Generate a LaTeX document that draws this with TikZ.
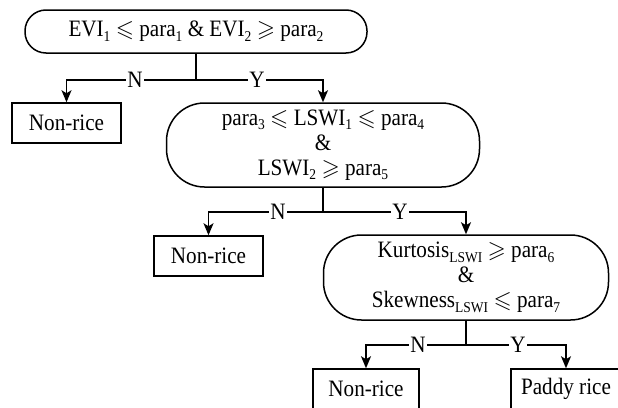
\documentclass[tikz,border=0pt]{standalone}
\usepackage{amssymb}
\usepackage{fontspec}
\setmainfont[FakeStretch=0.9]{Liberation Serif}
\usetikzlibrary{arrows.meta}
\newcommand\lo[1]{\raisebox{-0.2em}{\fontsize{15}{15}\selectfont #1}}
\begin{document}
\begin{tikzpicture}[x=1pt,y=-1pt,line width=1.5pt,
  font=\fontsize{23.5}{25}\selectfont,
  cond/.style={draw,rounded corners=#1,align=center,inner sep=0pt},
  term/.style={draw,rectangle,minimum height=40,inner sep=0pt},
  arr/.style={-{Stealth[length=12pt,width=10pt,inset=3pt]}},
  lab/.style={fill=white,inner sep=1.5pt}]
\useasboundingbox (0,0) rectangle (618,407);
\clip (0,0) rectangle (618,407);
% nodes
\node[cond=21,minimum width=342,minimum height=43] (c1) at (196,31.5)
  {EVI\lo{1} $\leqslant$ para\lo{1} \& EVI\lo{2} $\geqslant$ para\lo{2}};
\node[term,minimum width=109] (n1) at (66.5,123) {Non-rice};
\node[cond=38,minimum width=313,minimum height=84] (c2) at (323,145)
  {para\lo{3} $\leqslant$ LSWI\lo{1} $\leqslant$ para\lo{4}\\\&\\LSWI\lo{2} $\geqslant$ para\lo{5}};
\node[term,minimum width=109] (n2) at (208.5,256) {Non-rice};
\node[cond=38,minimum width=285,minimum height=85] (c3) at (466,277.5)
  {Kurtosis\lo{LSWI} $\geqslant$ para\lo{6}\\\&\\Skewness\lo{LSWI} $\leqslant$ para\lo{7}};
\node[term,minimum width=106] (n3) at (366,389) {Non-rice};
\node[term,minimum width=110] (pr) at (566,389) {Paddy rice};
% junctions
\coordinate (j1) at (196,80);
\coordinate (j2) at (323,212);
\coordinate (j3) at (466,345);
% connectors
\draw (c1.south) -- (j1);
\draw[arr] (j1) -| (n1.north);
\draw[arr] (j1) -| (c2.north);
\draw (c2.south) -- (j2);
\draw[arr] (j2) -| (n2.north);
\draw[arr] (j2) -| (c3.north);
\draw (c3.south) -- (j3);
\draw[arr] (j3) -| (n3.north);
\draw[arr] (j3) -| (pr.north);
% labels
\node[lab] (l1n) at (135,80) {N};
\node[lab] (l1y) at (257,80) {Y};
\node[lab] (l2n) at (278,212) {N};
\node[lab] (l2y) at (400,212) {Y};
\node[lab] (l3n) at (418,345) {N};
\node[lab] (l3y) at (518,345) {Y};
\end{tikzpicture}
\end{document}
